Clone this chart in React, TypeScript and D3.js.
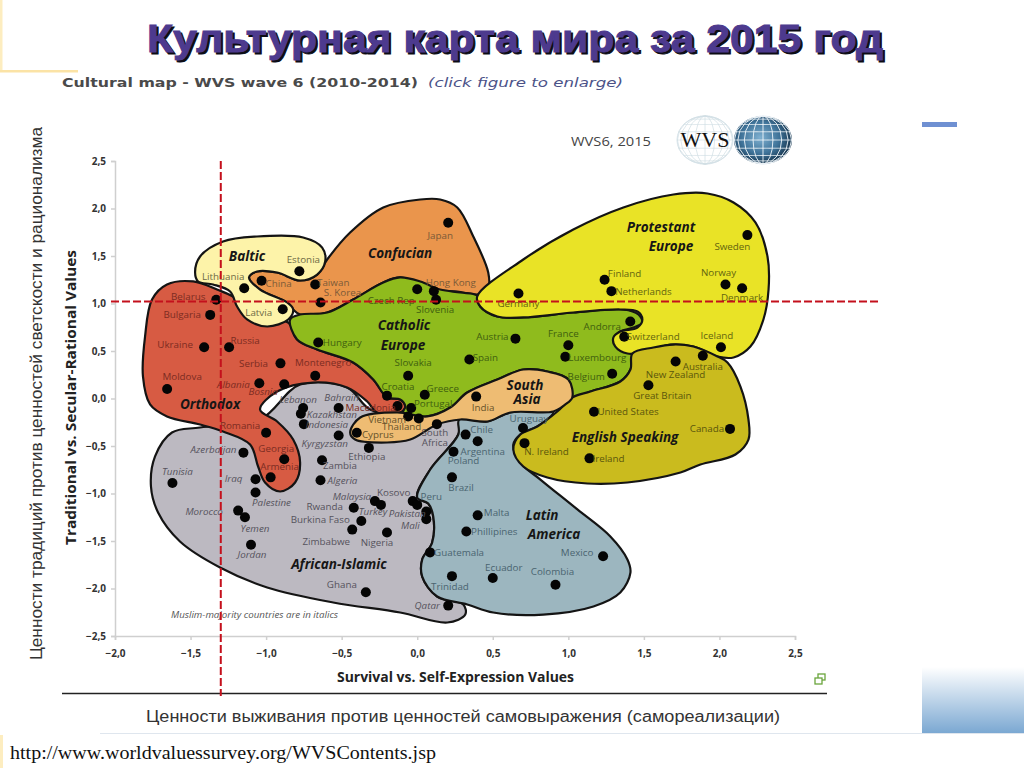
import React, { useRef, useEffect } from "react";
import * as d3 from "d3";

type Country = [string, number, number];
type Vertex = [number, number];

// countries by cultural zone: name, survival/self-expression, traditional/secular
const balticCountries: Country[] = [["Estonia", -0.78, 1.34], ["Lithuania", -1.145, 1.16], ["Latvia", -0.89, 0.94]];
const confucianCountries: Country[] = [["Japan", 0.205, 1.85], ["China", -1.03, 1.24], ["Taiwan", -0.675, 1.2], ["S. Korea", -0.64, 1.01], ["Hong Kong", 0.11, 1.13]];
const orthodoxCountries: Country[] = [
    ["Belarus", -1.33, 1.04], ["Bulgaria", -1.37, 0.88], ["Ukraine", -1.41, 0.54], ["Russia", -1.245, 0.54],
    ["Serbia", -0.905, 0.37], ["Montenegro", -0.675, 0.24], ["Moldova", -1.655, 0.1], ["Albania", -1.045, 0.16],
    ["Bosnia", -0.88, 0.15], ["Macedonia", -0.13, -0.08], ["Romania", -1.0, -0.36], ["Georgia", -0.88, -0.64], ["Armenia", -0.97, -0.83],
];
const catholicCountries: Country[] = [
    ["Czech Rep", 0.0, 1.15], ["Slovenia", 0.125, 1.04], ["Hungary", -0.655, 0.59], ["Slovakia", -0.06, 0.24],
    ["Croatia", -0.2, 0.03], ["Greece", 0.05, 0.04], ["Portugal", -0.04, -0.1], ["Austria", 0.65, 0.63], ["France", 1.0, 0.56],
    ["Luxembourg", 0.98, 0.44], ["Spain", 0.345, 0.41], ["Belgium", 1.29, 0.26], ["Andorra", 1.41, 0.81],
];
const protestantCountries: Country[] = [
    ["Germany", 0.67, 1.105], ["Finland", 1.24, 1.25], ["Netherlands", 1.285, 1.13], ["Sweden", 2.185, 1.72],
    ["Norway", 2.04, 1.2], ["Denmark", 2.15, 1.16], ["Switzerland", 1.37, 0.65], ["Iceland", 2.01, 0.54],
];
const englishCountries: Country[] = [
    ["Australia", 1.89, 0.45], ["New Zealand", 1.71, 0.39], ["Great Britain", 1.53, 0.14], ["United States", 1.17, -0.14],
    ["Canada", 2.07, -0.32], ["Ireland", 1.14, -0.63], ["N. Ireland", 0.71, -0.47],
];
const southAsiaCountries: Country[] = [["India", 0.39, 0.02], ["Vietnam", -0.06, -0.19], ["Thailand", 0.01, -0.21], ["Cyprus", -0.4, -0.36]];
const latinCountries: Country[] = [
    ["Chile", 0.32, -0.38], ["Argentina", 0.4, -0.45], ["Poland", 0.24, -0.56], ["Brazil", 0.23, -0.83], ["Peru", 0.0, -1.12],
    ["Malta", 0.4, -1.23], ["Phillipines", 0.325, -1.4], ["Guatemala", 0.085, -1.62], ["Trinidad", 0.23, -1.87],
    ["Ecuador", 0.5, -1.89], ["Colombia", 0.915, -1.96], ["Mexico", 1.23, -1.66], ["Uruguay", 0.7, -0.31],
];
const africanCountries: Country[] = [
    ["Lebanon", -0.755, -0.1], ["Bahrain", -0.52, -0.1], ["Kazakhstan", -0.77, -0.16], ["Indonesia", -0.75, -0.27],
    ["Kyrgyzstan", -0.52, -0.39], ["Ethiopia", -0.32, -0.52], ["Azerbaijan", -1.15, -0.57], ["Zambia", -0.63, -0.65],
    ["Tunisia", -1.62, -0.89], ["Iraq", -1.07, -0.85], ["Algeria", -0.64, -0.86], ["Palestine", -1.07, -0.99],
    ["Malaysia", -0.28, -1.08], ["Turkey", -0.24, -1.12], ["Kosovo", -0.03, -1.08], ["Pakistan", 0.06, -1.19], ["Mali", 0.06, -1.27],
    ["Rwanda", -0.42, -1.15], ["Burkina Faso", -0.37, -1.29], ["Zimbabwe", -0.43, -1.38], ["Nigeria", -0.2, -1.41],
    ["Morocco", -1.185, -1.18], ["Yemen", -1.14, -1.25], ["Jordan", -1.1, -1.54], ["Ghana", -0.34, -2.04], ["Qatar", 0.205, -2.18],
    ["South Africa", 0.13, -0.27],
];

// outlines of the zones, in chart values
const africanOutline: Vertex[] = [
    [-1.437, -0.305], [-1.623, -0.358], [-1.735, -0.61], [-1.762, -0.926], [-1.715, -1.2], [-1.57, -1.505], [-1.305, -1.779],
    [-0.993, -1.989], [-0.556, -2.147], [-0.113, -2.253], [0.199, -2.358], [0.318, -2.274], [0.305, -2.168], [0.132, -2.084],
    [0.033, -1.874], [0.033, -1.695], [0.099, -1.516], [0.106, -1.242], [0.073, -1.105], [0, -1.042], [0.086, -0.747],
    [0.272, -0.379], [0.278, -0.221], [0.02, -0.221], [-0.311, -0.116], [-0.464, 0.116], [-0.775, 0.147], [-1.04, -0.221],
];
const latinOutline: Vertex[] = [
    [0.278, -0.221], [0.464, -0.242], [0.616, -0.147], [0.901, -0.137], [0.795, -0.295], [0.682, -0.379], [0.636, -0.484],
    [0.682, -0.674], [0.815, -0.853], [1.06, -1.168], [1.278, -1.453], [1.391, -1.695], [1.411, -1.832], [1.344, -2.042],
    [1.166, -2.189], [0.834, -2.274], [0.503, -2.253], [0.331, -2.168], [0.132, -2.084], [0.033, -1.874], [0.033, -1.695],
    [0.099, -1.516], [0.106, -1.242], [0.073, -1.105], [0, -1.042], [0.086, -0.747], [0.272, -0.379],
];
const orthodoxOutline: Vertex[] = [
    [-1.483, 1.232], [-1.656, 1.2], [-1.755, 1.042], [-1.801, 0.653], [-1.815, 0.232], [-1.768, -0.063], [-1.656, -0.189],
    [-1.437, -0.274], [-1.285, -0.347], [-1.106, -0.484], [-1.053, -0.716], [-1.007, -0.884], [-0.907, -0.979], [-0.808, -0.884],
    [-0.775, -0.674], [-0.821, -0.432], [-0.927, -0.242], [-1.04, -0.116], [-0.927, 0.074], [-0.689, 0.168], [-0.464, 0.116],
    [-0.331, -0.032], [-0.265, -0.147], [-0.113, -0.147], [-0.079, -0.084], [-0.113, -0.011], [-0.199, 0.011], [-0.291, 0.2],
    [-0.424, 0.379], [-0.662, 0.516], [-0.795, 0.621], [-0.854, 0.8], [-1.126, 0.863], [-1.192, 1.042], [-1.325, 1.147],
];
const confucianOutline: Vertex[] = [
    [-1.113, 1.274], [-1.06, 1.337], [-0.927, 1.326], [-0.775, 1.242], [-0.662, 1.305], [-0.596, 1.463], [-0.444, 1.747],
    [-0.225, 2.011], [0.02, 2.095], [0.152, 2.095], [0.265, 2.011], [0.371, 1.705], [0.47, 1.326], [0.47, 1.168], [0.397, 1.095],
    [0.265, 1.126], [0.106, 1.147], [-0.113, 1.274], [-0.225, 1.221], [-0.424, 1.042], [-0.596, 0.905], [-0.775, 0.884],
    [-0.821, 0.937], [-0.861, 1.011], [-1.04, 1.147],
];
const balticOutline: Vertex[] = [
    [-1.47, 1.326], [-1.437, 1.495], [-1.285, 1.653], [-1.06, 1.705], [-0.755, 1.695], [-0.629, 1.589], [-0.609, 1.442],
    [-0.662, 1.305], [-0.775, 1.242], [-0.927, 1.326], [-1.06, 1.337], [-1.113, 1.274], [-1.04, 1.147], [-0.861, 1.011],
    [-0.821, 0.937], [-0.854, 0.832], [-0.993, 0.758], [-1.126, 0.832], [-1.192, 0.968], [-1.238, 1.126], [-1.351, 1.2], [-1.45, 1.232],
];
const catholicOutline: Vertex[] = [
    [-0.841, 0.832], [-0.775, 0.884], [-0.596, 0.905], [-0.424, 1.042], [-0.225, 1.221], [-0.113, 1.274], [0.02, 1.232],
    [0.152, 1.147], [0.285, 1.116], [0.397, 1.084], [0.417, 0.968], [0.53, 0.863], [0.702, 0.853], [1.033, 0.905], [1.364, 0.937],
    [1.464, 0.884], [1.49, 0.8], [1.43, 0.747], [1.331, 0.695], [1.298, 0.6], [1.344, 0.516], [1.424, 0.474], [1.411, 0.305],
    [1.344, 0.179], [1.146, 0.074], [1.026, 0.011], [1.0, 0.2], [0.861, 0.284], [0.702, 0.305], [0.53, 0.2], [0.331, 0.063],
    [0.219, -0.095], [0.066, -0.189], [-0.093, -0.147], [-0.079, -0.084], [-0.113, -0.011], [-0.199, 0.011], [-0.291, 0.2],
    [-0.424, 0.379], [-0.662, 0.516], [-0.795, 0.621],
];
const protestantOutline: Vertex[] = [
    [0.397, 1.074], [0.702, 1.463], [1.033, 1.779], [1.364, 2.011], [1.695, 2.147], [1.921, 2.158], [2.093, 2.063], [2.238, 1.853],
    [2.318, 1.495], [2.325, 1.147], [2.291, 0.832], [2.205, 0.547], [2.093, 0.432], [1.987, 0.442], [1.828, 0.547], [1.675, 0.568],
    [1.523, 0.495], [1.391, 0.474], [1.311, 0.547], [1.298, 0.642], [1.344, 0.705], [1.457, 0.747], [1.49, 0.832], [1.457, 0.916],
    [1.344, 0.937], [1.033, 0.905], [0.702, 0.853], [0.53, 0.863], [0.417, 0.968],
];
const englishOutline: Vertex[] = [
    [1.424, 0.474], [1.563, 0.537], [1.695, 0.568], [1.828, 0.547], [1.987, 0.442], [2.053, 0.379], [2.139, 0.126], [2.192, -0.221],
    [2.192, -0.432], [2.106, -0.589], [1.874, -0.695], [1.742, -0.779], [1.391, -0.884], [1.126, -0.895], [0.861, -0.832],
    [0.702, -0.716], [0.636, -0.537], [0.682, -0.379], [0.795, -0.295], [0.927, -0.137], [1.026, 0.011], [1.146, 0.074], [1.344, 0.179], [1.411, 0.305],
];
const southAsiaOutline: Vertex[] = [
    [1.026, 0.011], [1.0, 0.2], [0.861, 0.284], [0.702, 0.305], [0.53, 0.2], [0.331, 0.063], [0.219, -0.095], [0.066, -0.189],
    [-0.132, -0.147], [-0.377, -0.2], [-0.444, -0.358], [-0.411, -0.432], [-0.199, -0.463], [-0.046, -0.432], [0.132, -0.274],
    [0.285, -0.221], [0.464, -0.242], [0.616, -0.147], [0.901, -0.137], [0.98, -0.063],
];

const xTicks = [-2, -1.5, -1, -0.5, 0, 0.5, 1, 1.5, 2, 2.5];
const yTicks = [2.5, 2, 1.5, 1, 0.5, 0, -0.5, -1, -1.5, -2, -2.5];
const muslimMajority = ["Lebanon", "Bahrain", "Kazakhstan", "Indonesia", "Kyrgyzstan", "Azerbaijan", "Tunisia", "Iraq", "Palestine",
    "Morocco", "Yemen", "Jordan", "Algeria", "Malaysia", "Turkey", "Pakistan", "Mali", "Qatar", "Albania", "Bosnia"];

// where each country name sits relative to its dot, in pixels
const labelOffsets: Record<string, [number, number]> = {
    Japan: [-8, 13], Estonia: [4, -12], Lithuania: [-21, -12], China: [17, 3], Taiwan: [18, -2], "S. Korea": [22, -10],
    Belarus: [-28, -3], Bulgaria: [-28, 0], Latvia: [-24, 3], "Czech Rep": [-26, 11], "Hong Kong": [17, -9], Slovenia: [-1, 10],
    Ukraine: [-29, -3], Russia: [16, -7], Hungary: [24, 0], Serbia: [-27, 0], Montenegro: [8, -13], Moldova: [15, -13],
    Albania: [-26, 1], Bosnia: [-21, 7], Slovakia: [5, -13], Croatia: [11, -9], Greece: [18, -6], Macedonia: [-27, 1],
    Portugal: [22, -5], Lebanon: [-5, -9], Bahrain: [3, -11], Kazakhstan: [31, 1], Indonesia: [23, 0], Romania: [-26, -7],
    Kyrgyzstan: [-14, 8], Cyprus: [21, 2], Ethiopia: [-2, 9], Azerbaijan: [-30, -3], Georgia: [-8, -11], Zambia: [18, 5],
    Tunisia: [5, -12], Iraq: [-22, -1], Armenia: [9, -11], Algeria: [22, 0], Palestine: [16, 10], Malaysia: [-23, -5],
    Turkey: [-8, 7], Kosovo: [-19, -9], Peru: [14, -8], Pakistan: [-19, 2], Mali: [-16, 6], Rwanda: [-29, -1],
    "Burkina Faso": [-41, -2], Zimbabwe: [-26, 12], Nigeria: [-10, 10], Morocco: [-34, 1], Yemen: [10, 11], Jordan: [1, 10],
    Ghana: [-24, -8], Qatar: [-21, 0], Guatemala: [29, 0], Trinidad: [-2, 10], Brazil: [9, 10], Poland: [10, 9],
    "South Africa": [-2, 8], Vietnam: [-21, 3], Thailand: [-17, 8], Chile: [16, -5], Argentina: [5, 10], Malta: [19, -3],
    Phillipines: [28, 0], Ecuador: [11, -11], Colombia: [-3, -13], Mexico: [-26, -4], Uruguay: [6, -9], "N. Ireland": [22, 8],
    Ireland: [19, 0], "United States": [34, 0], India: [7, 11], "Great Britain": [14, 10], Germany: [0, 10], Finland: [20, -6],
    Netherlands: [32, 0], Sweden: [-15, 11], Norway: [-7, -12], Denmark: [0, 9], Andorra: [-28, 5], Switzerland: [29, 0],
    Iceland: [-4, -12], Australia: [0, 11], "New Zealand": [0, 13], Austria: [-23, -2], France: [-5, -12], Luxembourg: [32, 1],
    Spain: [16, -2], Belgium: [-26, 3], Canada: [-23, 0],
};

const zones = [
    { outline: africanOutline, fill: "#bcb9c1" },
    { outline: latinOutline, fill: "#9cb6bf" },
    { outline: orthodoxOutline, fill: "#d75b43" },
    { outline: confucianOutline, fill: "#ea954c" },
    { outline: balticOutline, fill: "#fdf3a9" },
    { outline: catholicOutline, fill: "#8fbb1d" },
    { outline: protestantOutline, fill: "#e9e326" },
    { outline: englishOutline, fill: "#cabb1e" },
    { outline: southAsiaOutline, fill: "#eebc73" },
];

const countryGroups: { countries: Country[]; color: string }[] = [
    { countries: africanCountries, color: "#55525c" },
    { countries: latinCountries, color: "#4a6470" },
    { countries: orthodoxCountries, color: "#7c2c22" },
    { countries: confucianCountries, color: "#7a5a38" },
    { countries: balticCountries, color: "#6e6a45" },
    { countries: catholicCountries, color: "#40600f" },
    { countries: protestantCountries, color: "#63630f" },
    { countries: englishCountries, color: "#5a560c" },
    { countries: southAsiaCountries, color: "#66522a" },
];

const zoneTitles: [string, number, number][] = [
    ["Baltic", 247, 261], ["Confucian", 400, 258], ["Catholic", 404, 330], ["Europe", 403, 350], ["Orthodox", 210, 409],
    ["Protestant", 661, 232], ["Europe", 671, 251], ["South", 525, 390], ["Asia", 527, 404], ["English Speaking", 625, 442],
    ["Latin", 542, 520], ["America", 554, 539], ["African-Islamic", 339, 569],
];

export default function App() {
    const ref = useRef<SVGSVGElement>(null);

    useEffect(() => {
        const svg = d3.select(ref.current);
        svg.selectAll("*").remove();

        const x = d3.scaleLinear().domain([-2, 2.5]).range([115, 795]);
        const y = d3.scaleLinear().domain([-2.5, 2.5]).range([636, 161]);
        const comma = (d) => d3.format(".1f")(d).replace(".", ",");

        const defs = svg.append("defs");
        const fade = defs.append("linearGradient").attr("id", "cornerFade").attr("x1", 0).attr("x2", 0).attr("y1", 0).attr("y2", 1);
        fade.append("stop").attr("offset", "0%").attr("stop-color", "#ffffff");
        fade.append("stop").attr("offset", "100%").attr("stop-color", "#7ba8d2");
        const ball = defs.append("radialGradient").attr("id", "ball").attr("cx", "45%").attr("cy", "45%").attr("r", "60%");
        ball.append("stop").attr("offset", "0%").attr("stop-color", "#7fb0d0");
        ball.append("stop").attr("offset", "55%").attr("stop-color", "#3f7399");
        ball.append("stop").attr("offset", "100%").attr("stop-color", "#102a40");

        svg.append("rect").attr("width", 1024).attr("height", 768).attr("fill", "#fff");

        // slide furniture
        svg.append("rect").attr("x", 0).attr("y", 0).attr("width", 2.5).attr("height", 72).attr("fill", "#fdedc0");
        svg.append("rect").attr("x", 0).attr("y", 70).attr("width", 78).attr("height", 2.5).attr("fill", "#fbe3a6");
        svg.append("rect").attr("x", 0).attr("y", 735).attr("width", 3).attr("height", 33).attr("fill", "#fdedc0");
        svg.append("rect").attr("x", 922).attr("y", 122).attr("width", 35).attr("height", 5).attr("fill", "#6f90d2");
        svg.append("rect").attr("x", 922).attr("y", 667).attr("width", 102).attr("height", 66).attr("fill", "url(#cornerFade)");
        svg.append("line").attr("x1", 100).attr("x2", 1024).attr("y1", 733.5).attr("y2", 733.5).attr("stroke", "#dfe6ee");

        const heading = "Культурная карта мира за 2015 год";
        svg.append("text").attr("x", 149).attr("y", 54).text(heading)
            .attr("font-family", "Liberation Sans").attr("font-weight", "bold").attr("font-size", 38)
            .attr("textLength", 736).attr("lengthAdjust", "spacingAndGlyphs")
            .attr("fill", "#0c0c14").attr("stroke", "#0c0c14").attr("stroke-width", 1);
        svg.append("text").attr("x", 147).attr("y", 52).text(heading)
            .attr("font-family", "Liberation Sans").attr("font-weight", "bold").attr("font-size", 38)
            .attr("textLength", 736).attr("lengthAdjust", "spacingAndGlyphs")
            .attr("fill", "#4d3a8e").attr("stroke", "#4d3a8e").attr("stroke-width", 1);

        svg.append("text").attr("x", 62).attr("y", 87).text("Cultural map - WVS wave 6 (2010-2014)")
            .attr("font-family", "DejaVu Sans").attr("font-weight", "bold").attr("font-size", 13)
            .attr("textLength", 356).attr("lengthAdjust", "spacingAndGlyphs").attr("fill", "#4a4a4a");
        svg.append("text").attr("x", 428).attr("y", 87).text("(click figure to enlarge)")
            .attr("font-family", "DejaVu Sans").attr("font-style", "italic").attr("font-size", 13)
            .attr("textLength", 195).attr("lengthAdjust", "spacingAndGlyphs").attr("fill", "#4b5288");

        svg.append("text").attr("x", 571).attr("y", 146).text("WVS6, 2015")
            .attr("font-family", "Open Sans").attr("font-size", 13)
            .attr("textLength", 80).attr("lengthAdjust", "spacingAndGlyphs").attr("fill", "#444");

        // WVS logo, two graticule globes
        const graticule = d3.geoGraticule().step([20, 20])();
        const paleGlobe = svg.append("g").attr("transform", "translate(705,140) scale(1,0.86)");
        const paleProjection = d3.geoOrthographic().scale(28).translate([0, 0]);
        paleGlobe.append("path").datum(graticule).attr("d", d3.geoPath(paleProjection))
            .attr("fill", "none").attr("stroke", "#d3e0e6").attr("stroke-width", 0.8);
        paleGlobe.append("circle").attr("r", 28).attr("fill", "none").attr("stroke", "#d3e0e6");
        const darkGlobe = svg.append("g").attr("transform", "translate(763,140) scale(1,0.83)");
        const darkProjection = d3.geoOrthographic().scale(29).translate([0, 0]);
        darkGlobe.append("circle").attr("r", 29).attr("fill", "url(#ball)");
        darkGlobe.append("path").datum(graticule).attr("d", d3.geoPath(darkProjection))
            .attr("fill", "none").attr("stroke", "#eef4f8").attr("stroke-width", 1);
        svg.append("text").attr("x", 705).attr("y", 147).attr("text-anchor", "middle").text("WVS")
            .attr("font-family", "Liberation Serif").attr("font-size", 21)
            .attr("textLength", 49).attr("lengthAdjust", "spacingAndGlyphs").attr("fill", "#111");

        // axes
        const xAxis = d3.axisBottom(x).tickValues(xTicks).tickSize(4).tickPadding(10).tickFormat(comma);
        const yAxis = d3.axisLeft(y).tickValues(yTicks).tickSize(4).tickPadding(5).tickFormat(comma);
        for (const [axis, move] of [[xAxis, "translate(0,636)"], [yAxis, "translate(115,0)"]] as const) {
            const g = svg.append("g").attr("transform", move).call(axis as any);
            g.selectAll("path,line").attr("stroke", "#cfcfcf").attr("stroke-width", 1.5);
            g.selectAll("text").attr("font-family", "Open Sans").attr("font-weight", "bold").attr("font-size", 10).attr("fill", "#333");
        }

        // cultural zones
        const blob = d3.line<Vertex>()
            .x((d) => x(d[0]))
            .y((d) => y(d[1]))
            .curve(d3.curveCatmullRomClosed.alpha(0.5));
        svg.append("g").selectAll("path").data(zones).enter().append("path")
            .attr("d", (d) => blob(d.outline))
            .attr("fill", (d) => d.fill)
            .attr("stroke", "#141414")
            .attr("stroke-width", 2.2)
            .attr("stroke-linejoin", "round");

        // countries
        for (const group of countryGroups) {
            const g = svg.append("g");
            g.selectAll("circle").data(group.countries).enter().append("circle")
                .attr("cx", (d) => x(d[1]))
                .attr("cy", (d) => y(d[2]))
                .attr("r", 5)
                .attr("fill", "#050505");
            g.selectAll("text").data(group.countries).enter().append("text")
                .attr("x", (d) => x(d[1]) + labelOffsets[d[0]][0])
                .attr("y", (d) => y(d[2]) + labelOffsets[d[0]][1] + 3.5)
                .attr("text-anchor", "middle")
                .attr("font-family", "Open Sans")
                .attr("font-size", 9.8)
                .attr("font-style", (d) => (muslimMajority.includes(d[0]) ? "italic" : "normal"))
                .attr("fill", group.color)
                .each(function (d) {
                    const el = d3.select(this);
                    const lines = d[0] === "South Africa" ? ["South", "Africa"] : [d[0]];
                    lines.forEach((line, i) => {
                        el.append("tspan")
                            .attr("x", x(d[1]) + labelOffsets[d[0]][0])
                            .attr("dy", i === 0 ? 0 : 10)
                            .text(line);
                    });
                });
        }

        svg.append("g").selectAll("text").data(zoneTitles).enter().append("text")
            .attr("x", (d) => d[1])
            .attr("y", (d) => d[2])
            .attr("text-anchor", "middle")
            .attr("font-family", "Open Sans")
            .attr("font-weight", "bold")
            .attr("font-style", "italic")
            .attr("font-size", 13.5)
            .attr("fill", "#161616")
            .text((d) => d[0]);

        svg.append("text").attr("x", 171).attr("y", 618).text("Muslim-majority countries are in italics")
            .attr("font-family", "Open Sans").attr("font-style", "italic").attr("font-size", 9)
            .attr("textLength", 167).attr("lengthAdjust", "spacingAndGlyphs").attr("fill", "#555");

        // axis titles
        svg.append("text").attr("x", 337).attr("y", 682).text("Survival vs. Self-Expression Values")
            .attr("font-family", "Open Sans").attr("font-weight", "bold").attr("font-size", 14)
            .attr("textLength", 237).attr("lengthAdjust", "spacingAndGlyphs").attr("fill", "#222");
        svg.append("text").attr("transform", "translate(76,545) rotate(-90)").text("Traditional vs. Secular-Rational Values")
            .attr("font-family", "Open Sans").attr("font-weight", "bold").attr("font-size", 14)
            .attr("textLength", 295).attr("lengthAdjust", "spacingAndGlyphs").attr("fill", "#222");
        svg.append("text").attr("transform", "translate(42,660) rotate(-90)").text("Ценности традиций против ценностей светскости и рационализма")
            .attr("font-family", "Liberation Sans").attr("font-size", 16)
            .attr("textLength", 533).attr("lengthAdjust", "spacingAndGlyphs").attr("fill", "#333");
        svg.append("text").attr("x", 146).attr("y", 722).text("Ценности выживания против ценностей самовыражения (самореализации)")
            .attr("font-family", "Liberation Sans").attr("font-size", 16)
            .attr("textLength", 634).attr("lengthAdjust", "spacingAndGlyphs").attr("fill", "#333");

        svg.append("line").attr("x1", 62).attr("x2", 827).attr("y1", 693.5).attr("y2", 693.5).attr("stroke", "#222").attr("stroke-width", 1.5);

        // enlarge icon
        const icon = svg.append("g").attr("fill", "#fff").attr("stroke", "#6aa53c").attr("stroke-width", 1.3);
        icon.append("rect").attr("x", 818).attr("y", 674).attr("width", 7).attr("height", 6);
        icon.append("rect").attr("x", 815).attr("y", 678).attr("width", 7).attr("height", 6);

        // red reference lines at the Russian position
        const red = svg.append("g").attr("stroke", "#c4101c").attr("stroke-width", 2).attr("stroke-dasharray", "8,3");
        red.append("line").attr("x1", x(-1.3)).attr("x2", x(-1.3)).attr("y1", 161).attr("y2", 696);
        red.append("line").attr("x1", 111).attr("x2", 879).attr("y1", y(1.02)).attr("y2", y(1.02));

        svg.append("text").attr("x", 10).attr("y", 759).text("http://www.worldvaluessurvey.org/WVSContents.jsp")
            .attr("font-family", "Liberation Serif").attr("font-size", 19)
            .attr("textLength", 426).attr("lengthAdjust", "spacingAndGlyphs").attr("fill", "#111");
    }, []);

    return (
        <svg ref={ref} width="1024" height="768" style={{ position: "absolute", left: 0, top: 0 }}></svg>
    );
}
